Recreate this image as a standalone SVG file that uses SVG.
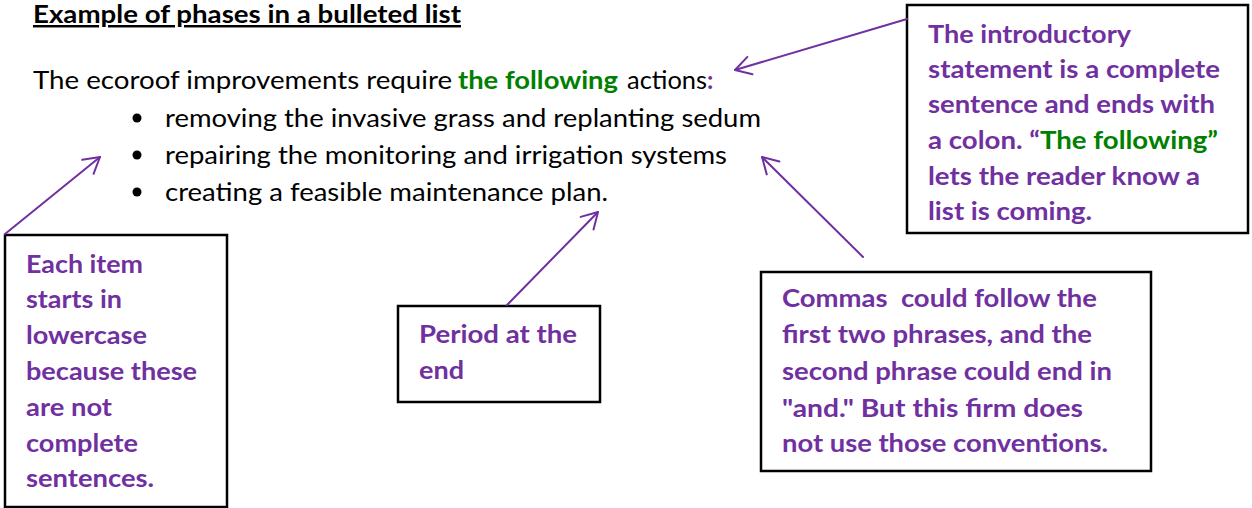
<svg xmlns="http://www.w3.org/2000/svg" width="1252" height="508" viewBox="0 0 1252 508">
  <style>
    .body { font-family: Lato, "Open Sans", "Liberation Sans", sans-serif; font-size: 24.5px; fill: #000; }
    .bold { font-weight: bold; }
    .note { font-family: Lato, "Open Sans", "Liberation Sans", sans-serif; font-size: 24.5px; font-weight: bold; fill: #7030A0; }
    .green { fill: #008000; }
    .purple { fill: #7030A0; }
    .box { fill: #fff; stroke: #000; stroke-width: 2.5; }
    .conn { stroke: #7030A0; stroke-width: 2; fill: none; stroke-linecap: round; }
    .dot { fill: #000; }
  </style>
  <defs>
    <marker id="arrow" markerUnits="userSpaceOnUse" viewBox="-20 -12 22 24" markerWidth="22" markerHeight="24" refX="0" refY="0" orient="auto" overflow="visible">
      <path d="M -15.6 -9 L 0 0 L -15.6 9" fill="none" stroke="#7030A0" stroke-width="2" stroke-linecap="round" stroke-linejoin="round"/>
    </marker>
    <clipPath id="clipIntro">
      <rect x="907" y="5" width="341" height="219"/>
    </clipPath>
  </defs>
  <rect width="1252" height="508" fill="#fff"/>

  <g id="title">
    <text class="body bold" x="33" y="23" textLength="428" lengthAdjust="spacingAndGlyphs" text-decoration="underline">Example of phases in a bulleted list</text>
  </g>

  <g id="intro">
    <text class="body" x="33" y="89" textLength="419" lengthAdjust="spacingAndGlyphs">The ecoroof improvements require</text>
    <text class="body bold green" x="458" y="89" textLength="160" lengthAdjust="spacingAndGlyphs">the following</text>
    <text class="body" x="627" y="89" textLength="80" lengthAdjust="spacingAndGlyphs">actions</text>
    <text class="body bold purple" x="707" y="89">:</text>
  </g>

  <g id="bullets">
    <circle class="dot" cx="137" cy="118" r="4.5"/>
    <text class="body" x="165" y="127" textLength="596" lengthAdjust="spacingAndGlyphs">removing the invasive grass and replanting sedum</text>
    <circle class="dot" cx="137" cy="155" r="4.5"/>
    <text class="body" x="165" y="164" textLength="562" lengthAdjust="spacingAndGlyphs">repairing the monitoring and irrigation systems</text>
    <circle class="dot" cx="137" cy="192" r="4.5"/>
    <text class="body" x="165" y="201" textLength="443" lengthAdjust="spacingAndGlyphs">creating a feasible maintenance plan.</text>
  </g>

  <g id="note-intro">
    <rect class="box" x="907" y="5" width="341" height="228"/>
    <g clip-path="url(#clipIntro)">
      <text class="note" x="928" y="43" textLength="203" lengthAdjust="spacingAndGlyphs">The introductory</text>
      <text class="note" x="928" y="78" textLength="292" lengthAdjust="spacingAndGlyphs">statement is a complete</text>
      <text class="note" x="928" y="113" textLength="287" lengthAdjust="spacingAndGlyphs">sentence and ends with</text>
      <text class="note" x="928" y="149" textLength="290" lengthAdjust="spacingAndGlyphs">a colon. “<tspan class="green">The following”</tspan></text>
      <text class="note" x="928" y="185" textLength="272" lengthAdjust="spacingAndGlyphs">lets the reader know a</text>
      <text class="note" x="928" y="220" textLength="164" lengthAdjust="spacingAndGlyphs">list is coming.</text>
    </g>
  </g>

  <g id="note-lowercase">
    <rect class="box" x="5" y="235" width="222" height="272"/>
    <text class="note" x="26" y="273" textLength="117" lengthAdjust="spacingAndGlyphs">Each item</text>
    <text class="note" x="26" y="308" textLength="96" lengthAdjust="spacingAndGlyphs">starts in</text>
    <text class="note" x="26" y="344" textLength="121" lengthAdjust="spacingAndGlyphs">lowercase</text>
    <text class="note" x="26" y="380" textLength="171" lengthAdjust="spacingAndGlyphs">because these</text>
    <text class="note" x="26" y="416" textLength="86" lengthAdjust="spacingAndGlyphs">are not</text>
    <text class="note" x="26" y="452" textLength="112" lengthAdjust="spacingAndGlyphs">complete</text>
    <text class="note" x="26" y="487" textLength="128" lengthAdjust="spacingAndGlyphs">sentences.</text>
  </g>

  <g id="note-period">
    <rect class="box" x="398" y="306" width="202" height="96"/>
    <text class="note" x="419" y="343" textLength="158" lengthAdjust="spacingAndGlyphs">Period at the</text>
    <text class="note" x="419" y="379" textLength="45" lengthAdjust="spacingAndGlyphs">end</text>
  </g>

  <g id="note-commas">
    <rect class="box" x="761" y="272" width="390" height="199"/>
    <text class="note" x="782" y="307" textLength="315" lengthAdjust="spacingAndGlyphs" style="white-space:pre">Commas  could follow the</text>
    <text class="note" x="782" y="343" textLength="310" lengthAdjust="spacingAndGlyphs">first two phrases, and the</text>
    <text class="note" x="782" y="380" textLength="330" lengthAdjust="spacingAndGlyphs">second phrase could end in</text>
    <text class="note" x="782" y="417" textLength="301" lengthAdjust="spacingAndGlyphs">"and." But this firm does</text>
    <text class="note" x="782" y="452" textLength="326" lengthAdjust="spacingAndGlyphs">not use those conventions.</text>
  </g>

  <g id="connectors">
    <line class="conn" x1="907" y1="19" x2="735" y2="70" marker-end="url(#arrow)"/>
    <line class="conn" x1="5" y1="234" x2="100" y2="157" marker-end="url(#arrow)"/>
    <line class="conn" x1="507" y1="305" x2="598" y2="212" marker-end="url(#arrow)"/>
    <line class="conn" x1="863" y1="257" x2="762" y2="157" marker-end="url(#arrow)"/>
  </g>
</svg>
